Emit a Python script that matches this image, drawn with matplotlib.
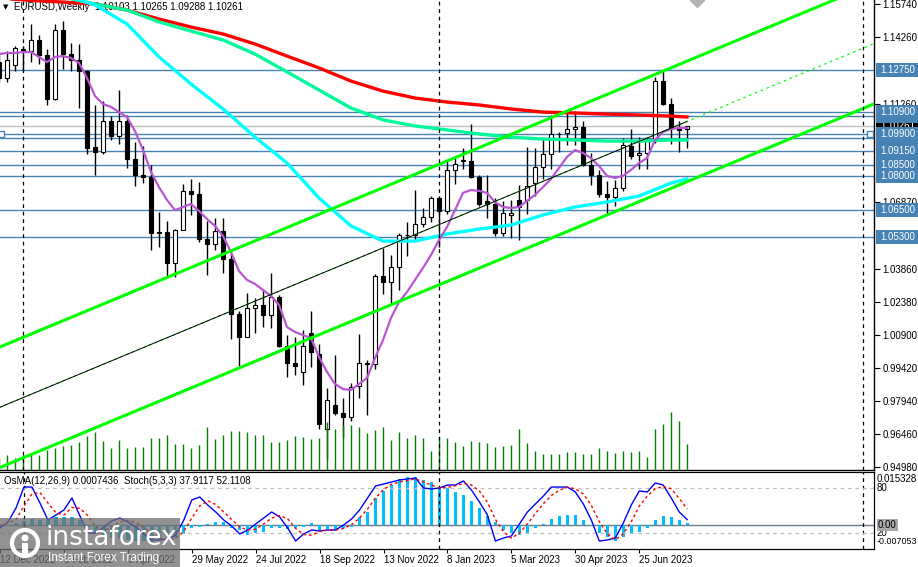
import numpy as np
import matplotlib
matplotlib.use("Agg")
import matplotlib.pyplot as plt
import matplotlib.transforms as mtransforms
from matplotlib.patches import Rectangle, Ellipse

plt.rcParams['font.family'] = ['Liberation Sans', 'DejaVu Sans']

# EURUSD weekly bars, 12 Dec 2021 .. 6 Aug 2023
opens = [1.1314, 1.1240, 1.1300, 1.1370, 1.1360, 1.1412, 1.1344, 1.1147, 1.1456, 1.1349,
         1.1323, 1.1270, 1.0930, 1.0911, 1.1050, 1.0983, 1.1046, 1.0876, 1.0807, 1.0797,
         1.0545, 1.0551, 1.0411, 1.0562, 1.0733, 1.0719, 1.0518, 1.0495, 1.0554, 1.0428,
         1.0184, 1.0081, 1.0212, 1.0224, 1.0180, 1.0259, 1.0038, 0.9965, 0.9925, 1.0100,
         1.0004, 0.9670, 0.9776, 0.9740, 0.9723, 0.9862, 0.9965, 0.9959, 1.0354, 1.0325,
         1.0396, 1.0536, 1.0537, 1.0585, 1.0617, 1.0705, 1.0644, 1.0830, 1.0872, 1.0868,
         1.0798, 1.0690, 1.0677, 1.0548, 1.0625, 1.0694, 1.0694, 1.0770, 1.0842, 1.0902,
         1.0992, 1.0994, 1.1012, 1.1020, 1.0850, 1.0805, 1.0721, 1.0708, 1.0749, 1.0938,
         1.0896, 1.0905, 1.0966, 1.1228, 1.1126, 1.1017, 1.10103]
highs = [1.1355, 1.1360, 1.1386, 1.1384, 1.1482, 1.1433, 1.1370, 1.1483, 1.1495, 1.1396,
         1.1395, 1.1275, 1.1121, 1.1137, 1.1070, 1.1185, 1.1076, 1.0955, 1.0936, 1.0849,
         1.0641, 1.0600, 1.0563, 1.0765, 1.0787, 1.0774, 1.0601, 1.0614, 1.0615, 1.0464,
         1.0198, 1.0278, 1.0254, 1.0294, 1.0368, 1.0268, 1.0090, 1.0079, 1.0112, 1.0198,
         1.0051, 0.9854, 0.9999, 0.9809, 0.9873, 1.0093, 0.9976, 1.0364, 1.0481, 1.0448,
         1.0545, 1.0595, 1.0737, 1.0660, 1.0713, 1.0713, 1.0875, 1.0887, 1.0929, 1.1033,
         1.0804, 1.0805, 1.0705, 1.0691, 1.0694, 1.0760, 1.0930, 1.0927, 1.0973, 1.1075,
         1.1000, 1.1095, 1.1092, 1.1050, 1.0905, 1.0830, 1.0779, 1.0786, 1.0971, 1.1012,
         1.0976, 1.0975, 1.1244, 1.1276, 1.1149, 1.1046, 1.10265]
lows = [1.1222, 1.1222, 1.1270, 1.1272, 1.1314, 1.1303, 1.1121, 1.1140, 1.1280, 1.1274,
        1.1106, 1.0900, 1.0806, 1.0900, 1.0963, 1.0944, 1.0837, 1.0757, 1.0770, 1.0471,
        1.0483, 1.0354, 1.0350, 1.0558, 1.0627, 1.0506, 1.0359, 1.0470, 1.0366, 1.0072,
        0.9952, 1.0079, 1.0097, 1.0123, 1.0122, 1.0034, 0.9899, 0.9910, 0.9864, 0.9945,
        0.9668, 0.9536, 0.9730, 0.9632, 0.9705, 0.9808, 0.9730, 0.9935, 1.0272, 1.0223,
        1.0290, 1.0443, 1.0511, 1.0575, 1.0595, 1.0483, 1.0630, 1.0766, 1.0835, 1.0794,
        1.0669, 1.0613, 1.0533, 1.0533, 1.0524, 1.0516, 1.0632, 1.0712, 1.0788, 1.0831,
        1.0910, 1.0941, 1.0942, 1.0848, 1.0760, 1.0707, 1.0635, 1.0666, 1.0733, 1.0880,
        1.0833, 1.0833, 1.0950, 1.1120, 1.0943, 1.0911, 1.09288]
closes = [1.1240, 1.1323, 1.1375, 1.1360, 1.1412, 1.1344, 1.1147, 1.1456, 1.1349, 1.1323,
          1.1270, 1.0928, 1.0911, 1.1050, 1.0983, 1.1046, 1.0876, 1.0807, 1.0797, 1.0545,
          1.0551, 1.0411, 1.0562, 1.0733, 1.0719, 1.0518, 1.0495, 1.0554, 1.0428, 1.0184,
          1.0081, 1.0212, 1.0224, 1.0180, 1.0259, 1.0038, 0.9965, 0.9952, 1.0040, 1.0014,
          0.9690, 0.9800, 0.9740, 0.9723, 0.9858, 0.9965, 0.9959, 1.0354, 1.0325, 1.0396,
          1.0536, 1.0537, 1.0585, 1.0617, 1.0705, 1.0644, 1.0830, 1.0855, 1.0868, 1.0798,
          1.0678, 1.0677, 1.0548, 1.0634, 1.0636, 1.0665, 1.0757, 1.0842, 1.0902, 1.0992,
          1.0990, 1.1012, 1.1020, 1.0850, 1.0805, 1.0721, 1.0708, 1.0749, 1.0940, 1.0890,
          1.0905, 1.0966, 1.1228, 1.1126, 1.1017, 1.1006, 1.10261]
# tick volume, thousands
volume = [12, 15, 12, 15, 17, 15, 20, 22, 24, 25, 28, 34, 38, 29, 22, 30, 22, 23, 23, 32,
          32, 35, 26, 26, 22, 25, 43, 31, 35, 39, 39, 38, 35, 35, 28, 28, 30, 34, 33, 31,
          32, 48, 41, 45, 45, 43, 37, 40, 43, 30, 38, 32, 35, 32, 19, 33, 32, 28, 24, 29,
          28, 27, 23, 24, 25, 41, 27, 19, 16, 16, 16, 18, 18, 16, 16, 22, 19, 17, 19, 18,
          19, 13, 41, 46, 58, 49, 26]

ma_idx = [0, 4, 8, 12, 16, 20, 24, 28, 32, 36, 40, 44, 48, 52, 56, 60, 64, 68, 72, 76, 80, 84, 86]
ema_red = [1.1599, 1.1588, 1.1581, 1.1572, 1.1545, 1.1505, 1.1469, 1.1438, 1.1393, 1.1339,
           1.1286, 1.1227, 1.1182, 1.1151, 1.1133, 1.1120, 1.1102, 1.1088, 1.1084, 1.1079,
           1.1075, 1.1070, 1.1066]
ema_green = [1.1657, 1.1626, 1.1604, 1.1572, 1.1545, 1.1492, 1.1451, 1.1411, 1.1348, 1.1268,
             1.1187, 1.1106, 1.1053, 1.1026, 1.1008, 1.0990, 1.0976, 1.0967, 1.0963, 1.0958,
             1.0958, 1.0963, 1.0963]
ema_cyan = [1.1711, 1.1662, 1.1613, 1.1568, 1.1483, 1.1335, 1.1214, 1.1102, 1.0976, 1.0860,
            1.0703, 1.0578, 1.0510, 1.0510, 1.0542, 1.0564, 1.0582, 1.0627, 1.0663, 1.0685,
            1.0712, 1.0770, 1.0788]
ema_fast = [1.1348, 1.1353, 1.1353, 1.1357, 1.1357, 1.1335, 1.1312, 1.1335, 1.1339, 1.1330,
            1.1308, 1.1241, 1.1160, 1.1124, 1.1111, 1.1088, 1.1066, 1.1003, 1.0918, 1.0820,
            1.0752, 1.0694, 1.0649, 1.0663, 1.0676, 1.0645, 1.0609, 1.0578, 1.0533, 1.0461,
            1.0376, 1.0336, 1.0318, 1.0291, 1.0264, 1.0224, 1.0125, 1.0103, 1.0089, 1.0076,
            0.9991, 0.9924, 0.9870, 0.9847, 0.9843, 0.9870, 0.9897, 0.9986, 1.0067, 1.0166,
            1.0237, 1.0282, 1.0336, 1.0390, 1.0448, 1.0515, 1.0573, 1.0649, 1.0726, 1.0739,
            1.0735, 1.0726, 1.0685, 1.0663, 1.0658, 1.0663, 1.0690, 1.0717, 1.0752, 1.0788,
            1.0838, 1.0887, 1.0918, 1.0905, 1.0882, 1.0847, 1.0802, 1.0793, 1.0802, 1.0829,
            1.0860, 1.0882, 1.0963, 1.0999, 1.1012, 1.1017, 1.1017]

# channel anchors (week index, price)
chan_idx = [0, 110]
chan_upper = [1.0034, 1.1674]
chan_mid = [0.9764, 1.1404]
chan_lower = [0.9494, 1.1134]
trend_idx = [0, 86]
trend_vals = [0.9764, 1.1046]

levels = [1.1275, 1.1090, 1.1070, 1.0990, 1.0970, 1.0915, 1.0850, 1.0800, 1.0650, 1.0530]
last_price = 1.10261
price_ticks = [1.1574, 1.1426, 1.1126, 1.0687, 1.0386, 1.0238, 1.0090, 0.9942, 0.9794, 0.9646, 0.9498]

# OsMA(12,26,9) and Stoch(5,3,3)
osma = [-0.0006, -0.0003, 0.0006, 0.0012, 0.0018, 0.0015, 0.0015, 0.0024, 0.0024, 0.0024,
        0.0015, -0.0006, -0.0024, -0.0033, -0.0039, -0.0042, -0.0045, -0.0048, -0.0048, -0.0051,
        -0.0048, -0.0045, -0.0039, -0.0027, -0.0009, -0.0006, 0.0002, 0.0009, 0.0009, -0.0009,
        -0.0015, -0.0030, -0.0024, -0.0021, -0.0009, -0.0009, -0.0012, -0.0009, -0.0006, 0.0006,
        -0.0015, -0.0012, -0.0015, -0.0009, -0.0006, 0.0024, 0.0039, 0.0080, 0.0101, 0.0119,
        0.0137, 0.0143, 0.0143, 0.0134, 0.0128, 0.0110, 0.0110, 0.0098, 0.0089, 0.0072,
        0.0051, 0.0027, 0.0009, -0.0015, -0.0024, -0.0030, -0.0024, -0.0009, 0.0003, 0.0018,
        0.0027, 0.0030, 0.0030, 0.0015, -0.0003, -0.0024, -0.0036, -0.0048, -0.0036, -0.0027,
        -0.0021, -0.0009, 0.0015, 0.0027, 0.0024, 0.0015, 0.0007]
stoch_k = [26.7, 34.7, 53.3, 81.3, 81.3, 60.0, 37.3, 44.0, 50.7, 66.7,
           42.7, 20.0, 20.0, 28.0, 36.0, 40.0, 34.7, 28.0, 18.7, 10.7,
           10.7, 12.0, 17.3, 37.3, 64.0, 68.0, 57.3, 48.0, 37.3, 29.3,
           18.7, 24.0, 32.0, 40.0, 48.0, 41.3, 26.7, 9.3, 18.7, 24.0,
           22.7, 24.0, 24.0, 30.7, 38.7, 50.7, 66.7, 82.7, 85.3, 88.0,
           90.7, 92.0, 93.3, 80.0, 78.7, 80.0, 84.0, 84.0, 89.3, 77.3,
           61.3, 44.0, 9.3, 13.3, 16.0, 32.0, 48.0, 58.7, 69.3, 81.3,
           81.3, 81.3, 74.7, 58.7, 37.3, 9.3, 10.7, 13.3, 33.3, 57.3,
           76.0, 74.7, 86.7, 84.0, 66.7, 48.0, 37.9]
stoch_d = [30, 33, 38, 56, 72, 74, 60, 47, 44, 54,
           53, 43, 28, 23, 28, 35, 37, 34, 27, 19,
           13, 11, 13, 22, 40, 56, 63, 58, 48, 38,
           28, 24, 25, 32, 40, 43, 39, 26, 18, 17,
           22, 24, 24, 26, 31, 40, 52, 67, 78, 85,
           88, 90, 92, 88, 84, 80, 81, 83, 86, 84,
           76, 61, 38, 22, 13, 20, 32, 46, 59, 70,
           77, 81, 79, 72, 57, 35, 19, 11, 19, 35,
           56, 69, 79, 82, 79, 66, 52.1]

date_idx = [0, 8, 16, 24, 32, 40, 48, 56, 64, 72, 80]
date_lbl = ['12 Dec 2021', '6 Feb 2022', '3 Apr 2022', '29 May 2022', '24 Jul 2022', '18 Sep 2022',
            '13 Nov 2022', '8 Jan 2023', '5 Mar 2023', '30 Apr 2023', '25 Jun 2023']
separators = [3, 55, 108]

W, H = 918.0, 567.0
FS = 7
fig = plt.figure(figsize=(9.18, 5.67), dpi=100)
ax = fig.add_axes([0, 1 - 470 / H, 874 / W, 470 / H])
axs = fig.add_axes([0, 1 - 549 / H, 874 / W, 77 / H])

idx = np.arange(len(closes))
xlo, xhi = 0.125, 109.375
ax.set_xlim(xlo, xhi)
ax.set_ylim(0.948456, 1.159016)

# price levels
for lv in levels:
    ax.axhline(lv, color='#4682B4', lw=1.0, zorder=1)
ax.axhline(last_price, color='#C0C0C0', lw=1.0, zorder=1)

# candles
o = np.array(opens); c = np.array(closes)
ax.vlines(idx, lows, highs, color='black', lw=1.0, zorder=3)
body_lo = np.minimum(o, c)
body_h = np.maximum(np.abs(c - o), 0.00012)
ax.bar(idx, body_h, bottom=body_lo, width=0.62,
       color=np.where(c >= o, 'white', 'black'), edgecolor='black', linewidth=0.8, zorder=3.2)

# volumes along the bottom
vtrans = mtransforms.blended_transform_factory(ax.transData, ax.transAxes)
ax.vlines(idx, 0, np.array(volume) / 470.0, transform=vtrans, color='#008000', lw=1.0, zorder=3.5)

# moving averages
ax.plot(ma_idx, ema_red, color='#FF0000', lw=2.4, zorder=4)
ax.plot(ma_idx, ema_green, color='#00FA9A', lw=2.4, zorder=4)
ax.plot(ma_idx, ema_cyan, color='#00FFFF', lw=2.4, zorder=4)
ax.plot(idx, ema_fast, color='#BA55D3', lw=1.6, zorder=4.2)

# channel
ax.plot(chan_idx, chan_mid, color='#00FF00', lw=0.9, ls=(0, (2, 3)), zorder=4.4)
ax.plot(trend_idx, trend_vals, color='black', lw=0.7, zorder=4.5)
ax.plot(chan_idx, chan_upper, color='#00FF00', lw=2.2, zorder=5)
ax.plot(chan_idx, chan_lower, color='#00FF00', lw=2.2, zorder=5)

ax.plot([87.25], [1.159], marker='D', ms=7, color='#B4B4B4', mec='#B4B4B4', zorder=5)
ax.plot([0.3, 108.9], [1.0990, 1.0990], ls='none', marker='s', ms=4, mfc='white',
        mec='#4682B4', mew=1.0, zorder=5, clip_on=False)

for s in separators:
    ax.axvline(s, color='black', lw=0.9, ls=(0, (3, 3)), zorder=5)
    axs.axvline(s, color='black', lw=0.9, ls=(0, (3, 3)), zorder=5)

ax.text(3 / 874, 1 - 7 / 470, '\u25bc', transform=ax.transAxes, fontsize=5, va='center',
        family='DejaVu Sans', zorder=1)
ax.text(14 / 874, 1 - 7 / 470, 'EURUSD,Weekly  1.10103 1.10265 1.09288 1.10261',
        transform=ax.transAxes, fontsize=FS, va='center', zorder=1)

# right price scale
for sp in ['top', 'left']:
    ax.spines[sp].set_visible(False)
ax.spines['right'].set_linewidth(1.0)
ax.spines['bottom'].set_linewidth(1.0)
ax.set_xticks([])
ax.yaxis.tick_right()
ax.set_yticks(price_ticks)
ax.set_yticklabels(['%.5f' % v for v in price_ticks])
ax.tick_params(axis='y', length=4, width=0.8, pad=2, labelsize=FS, direction='out')

ltrans = mtransforms.blended_transform_factory(ax.transAxes, ax.transData)
hh = 7.0 * 0.000448
order = [last_price, 1.1070, 1.0970, 1.1275, 1.1090, 1.0990, 1.0915, 1.0850, 1.0800, 1.0650, 1.0530]
for k, lv in enumerate(order):
    fc = 'black' if lv == last_price else '#4682B4'
    ax.add_patch(Rectangle((876 / 874, lv - hh), 42 / 874, 2 * hh, transform=ltrans,
                           facecolor=fc, edgecolor='none', clip_on=False, zorder=6 + k * 0.1))
    ax.text(880 / 874, lv, '%.5f' % lv, transform=ltrans, color='white', fontsize=FS,
            va='center', clip_on=False, zorder=6.05 + k * 0.1)

# sub window: OsMA + Stochastic
axs.set_xlim(xlo, xhi)
axs.set_ylim(-0.007152, 0.015794)
axs.bar(idx, osma, width=0.42, color='#00BFFF', zorder=2)
axs.axhline(0, color='#6C7B8B', lw=1.0, zorder=1.5)
axs.text(4 / 874, (549 - 481) / 77, 'OsMA(12,26,9) 0.0007436  Stoch(5,3,3) 37.9117 52.1108',
         transform=axs.transAxes, fontsize=FS, va='center', zorder=1)
ax2 = axs.twinx()
ax2.set_ylim(-1.333, 101.333)
ax2.axhline(80, color='#C0C0C0', lw=0.9, ls=(0, (3, 3)), zorder=1)
ax2.axhline(20, color='#C0C0C0', lw=0.9, ls=(0, (3, 3)), zorder=1)
ax2.plot(idx, stoch_k, color='#0000FF', lw=1.0, zorder=3)
ax2.plot(idx, stoch_d, color='#FF0000', lw=1.0, ls=(0, (2, 2)), zorder=3)
for a in (axs, ax2):
    a.spines['left'].set_visible(False)
    a.set_yticks([])
axs.set_xticks(date_idx)
axs.set_xticklabels(date_lbl)
axs.tick_params(axis='x', length=3, width=0.8, pad=1, labelsize=FS, direction='out')
for lbl in axs.get_xticklabels():
    lbl.set_horizontalalignment('left')

sub_lbls = [('0.015328', 479, FS), ('80', 488, FS), ('20', 533, FS), ('-0.007053', 542, 6.4)]
for s, ypx, fs in sub_lbls:
    axs.text(877 / 874, (549 - ypx) / 77, s, transform=axs.transAxes, fontsize=fs,
             va='center', clip_on=False)
axs.text(878 / 874, 0, '0.00', transform=mtransforms.blended_transform_factory(axs.transAxes, axs.transData),
         fontsize=FS, va='center', clip_on=False,
         bbox=dict(boxstyle='square,pad=0.1', facecolor='#A9A9A9', edgecolor='none'))

# watermark
fig.patches.append(Rectangle((0, 0), 180 / W, 49 / H, transform=fig.transFigure,
                             facecolor='#6E6E6E', alpha=0.75, edgecolor='none', zorder=10))
fig.patches.append(Ellipse((25 / W, 1 - 543 / H), 26 / W, 26 / H, transform=fig.transFigure,
                           fill=False, edgecolor='white', lw=3, zorder=11))
fig.patches.append(Ellipse((25 / W, 1 - 538 / H), 7 / W, 7 / H, transform=fig.transFigure,
                           facecolor='white', edgecolor='none', zorder=11))
fig.patches.append(Rectangle((22 / W, 1 - 556 / H), 6 / W, 13 / H, transform=fig.transFigure,
                             facecolor='white', edgecolor='none', zorder=11))
fig.text(46 / W, 1 - 538 / H, 'instaforex', fontsize=19, color='white', va='center',
         family='DejaVu Sans', zorder=12)
fig.text(48 / W, 1 - 558 / H, 'Instant Forex Trading', fontsize=8.5, color='white',
         va='center', zorder=12)

fig.savefig('out.png', dpi=100)
